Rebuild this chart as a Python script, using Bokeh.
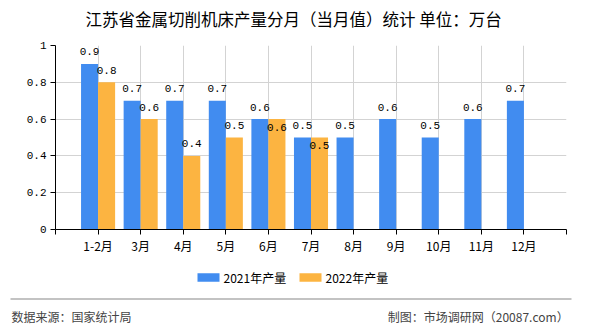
from bokeh.plotting import figure
from bokeh.models import ColumnDataSource, FixedTicker, Range1d
from bokeh.core.properties import value
from bokeh.embed import file_html
from bokeh.resources import INLINE

months = ["1-2月", "3月", "4月", "5月", "6月", "7月", "8月", "9月", "10月", "11月", "12月"]
prod_2021 = [0.9, 0.7, 0.7, 0.7, 0.6, 0.5, 0.5, 0.6, 0.5, 0.6, 0.7]
prod_2022 = [0.8, 0.6, 0.4, 0.5, 0.6, 0.5]
series_names = ["2021年产量", "2022年产量"]
y_ticks = [0, 0.2, 0.4, 0.6, 0.8, 1]
title_text = "江苏省金属切削机床产量分月（当月值）统计 单位：万台"
source_text = "数据来源：国家统计局"
credit_text = "制图：市场调研网（20087.com）"

BLUE = "#418CF0"
ORANGE = "#FCB441"
CJK = "Noto Sans CJK SC"
MONO = "Liberation Mono"

n = len(months)
x_pos = list(range(1, n + 1))

src21 = ColumnDataSource(dict(x=[x - 0.2 for x in x_pos], top=prod_2021,
                              lbl=[f"{v:g}" for v in prod_2021]))
x22 = x_pos[:len(prod_2022)]
off22 = [8 if abs(v - prod_2021[i]) < 1e-9 else -12 for i, v in enumerate(prod_2022)]
src22 = ColumnDataSource(dict(x=[x + 0.2 for x in x22], top=prod_2022,
                              lbl=[f"{v:g}" for v in prod_2022], yoff=off22))


def strip(height):
    s = figure(width=590, height=height, output_backend="svg", toolbar_location=None,
               x_range=Range1d(0, 590), y_range=Range1d(height, 0),
               x_axis_type=None, y_axis_type=None, min_border=0)
    s.outline_line_color = None
    s.xgrid.visible = False
    s.ygrid.visible = False
    s.border_fill_color = "white"
    s.background_fill_color = "white"
    return s


# ---------------- title strip ----------------
h = strip(30)
h.text(x=[85], y=[18.5], text=[title_text], text_align="left", text_baseline="middle",
       text_font=value(CJK), text_font_size="16.5px", text_color="#000000")

# ---------------- main chart ----------------
p = figure(width=590, height=228, output_backend="svg", toolbar_location=None,
           x_range=Range1d(0, n + 1), y_range=Range1d(0, 1),
           min_border_left=55, min_border_right=24, min_border_top=15, min_border_bottom=29)
p.outline_line_color = None
p.background_fill_color = "white"
p.border_fill_color = "white"

p.vbar(x="x", top="top", width=0.4, source=src21, fill_color=BLUE, line_color=None)
p.vbar(x="x", top="top", width=0.4, source=src22, fill_color=ORANGE, line_color=None)

p.text(x="x", y="top", text="lbl", source=src21, y_offset=-12,
       text_align="center", text_baseline="middle",
       text_font=value(MONO), text_font_size="11px", text_color="#000000")
p.text(x="x", y="top", text="lbl", source=src22, y_offset="yoff",
       text_align="center", text_baseline="middle",
       text_font=value(MONO), text_font_size="11px", text_color="#000000")

p.xaxis.ticker = FixedTicker(ticks=list(range(0, n + 2)))
p.xaxis.major_label_overrides = {0: "", n + 1: "", **{x_pos[i]: months[i] for i in range(n)}}
p.xaxis.major_label_text_font = CJK
p.xaxis.major_label_text_font_size = "12px"
p.xaxis.major_label_text_color = "#000000"
p.xaxis.axis_line_color = "#000000"
p.xaxis.major_tick_line_color = "#000000"
p.xaxis.major_tick_out = 5
p.xaxis.major_tick_in = 0
p.xaxis.minor_tick_line_color = None
p.xaxis.major_label_standoff = 2

p.yaxis.ticker = FixedTicker(ticks=y_ticks)
p.yaxis.major_label_overrides = {t: f"{t:g}" for t in y_ticks}
p.yaxis.major_label_text_font = MONO
p.yaxis.major_label_text_font_size = "11px"
p.yaxis.major_label_text_color = "#000000"
p.yaxis.axis_line_color = "#000000"
p.yaxis.major_tick_line_color = "#000000"
p.yaxis.major_tick_out = 5
p.yaxis.major_tick_in = 0
p.yaxis.minor_tick_line_color = None
p.yaxis.major_label_standoff = 4

p.xgrid.ticker = FixedTicker(ticks=list(range(0, n + 2)))
p.ygrid.ticker = FixedTicker(ticks=y_ticks)
p.xgrid.grid_line_color = "#D3D3D3"
p.ygrid.grid_line_color = "#D3D3D3"

# ---------------- legend + footer strip ----------------
f = strip(72)
leg = ColumnDataSource(dict(sx=[208, 310], tx=[223, 325], y=[19, 19],
                            color=[BLUE, ORANGE], name=series_names))
f.rect(x="sx", y="y", width=22, height=8.5, source=leg, fill_color="color", line_color=None)
f.text(x="tx", y="y", text="name", source=leg, text_align="left", text_baseline="middle",
       text_font=value(CJK), text_font_size="12px", text_color="#000000")

f.segment(x0=[10], y0=[40.5], x1=[571], y1=[40.5], line_color="#888888", line_width=1.2)
f.text(x=[11], y=[58], text=[source_text], text_align="left", text_baseline="middle",
       text_font=value(CJK), text_font_size="12px", text_color="#444444")
f.text(x=[568], y=[58], text=[credit_text], text_align="right", text_baseline="middle",
       text_font=value(CJK), text_font_size="12px", text_color="#444444")

open("out.html", "w").write(file_html([h, p, f], INLINE))
